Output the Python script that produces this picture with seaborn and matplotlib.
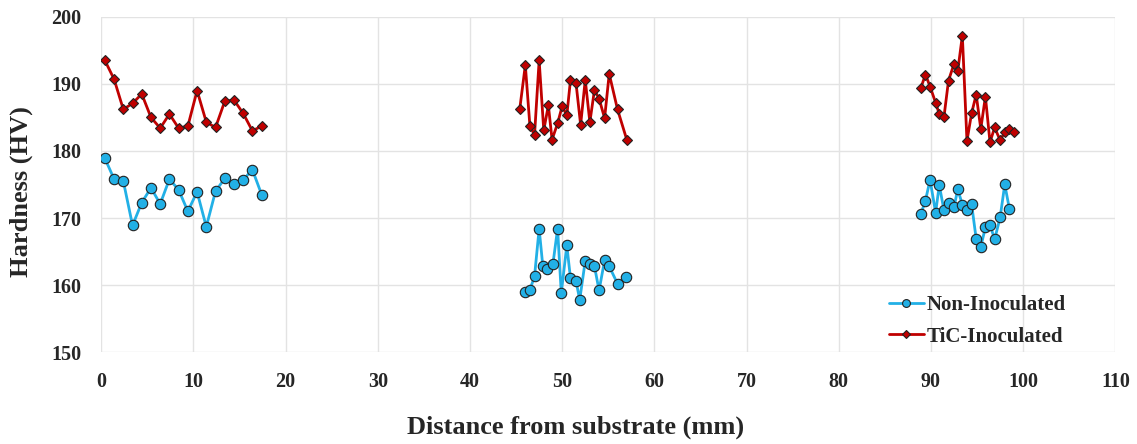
import numpy as np
import pandas as pd
import matplotlib
matplotlib.use("Agg")
import matplotlib.pyplot as plt
import seaborn as sns

# distance (mm) and hardness (HV), three zones per series
non_x1 = [0.4, 1.4, 2.4, 3.4, 4.4, 5.4, 6.4, 7.4, 8.4, 9.4, 10.4, 11.4, 12.4, 13.4, 14.4, 15.4, 16.4, 17.4]
non_y1 = [178.9, 175.8, 175.5, 168.9, 172.3, 174.5, 172.1, 175.8, 174.2, 171.0, 173.9, 168.7, 174.0, 175.9, 175.1, 175.7, 177.2, 173.5]
non_x2 = [46.0, 46.5, 47.0, 47.5, 47.9, 48.4, 49.0, 49.5, 49.9, 50.5, 50.9, 51.5, 51.9, 52.5, 53.0, 53.5, 54.0, 54.6, 55.1, 56.0, 56.9]
non_y2 = [159.0, 159.3, 161.3, 168.4, 162.8, 162.4, 163.2, 168.4, 158.8, 165.9, 161.0, 160.6, 157.8, 163.6, 163.1, 162.8, 159.2, 163.7, 162.8, 160.2, 161.2]
non_x3 = [88.9, 89.4, 89.9, 90.5, 90.9, 91.4, 91.9, 92.5, 92.9, 93.4, 93.9, 94.4, 94.9, 95.4, 95.9, 96.4, 96.9, 97.5, 98.0, 98.5]
non_y3 = [170.6, 172.6, 175.7, 170.8, 174.9, 171.2, 172.3, 171.6, 174.3, 172.0, 171.2, 172.1, 166.9, 165.7, 168.6, 169.0, 166.8, 170.1, 175.0, 171.4]

tic_x1 = [0.4, 1.4, 2.4, 3.4, 4.4, 5.4, 6.4, 7.4, 8.4, 9.4, 10.4, 11.4, 12.4, 13.4, 14.4, 15.4, 16.4, 17.4]
tic_y1 = [193.5, 190.7, 186.2, 187.1, 188.5, 185.0, 183.4, 185.5, 183.4, 183.7, 189.0, 184.3, 183.5, 187.4, 187.6, 185.6, 183.0, 183.7]
tic_x2 = [45.4, 46.0, 46.5, 47.0, 47.5, 48.0, 48.5, 48.9, 49.5, 50.0, 50.5, 50.9, 51.5, 52.0, 52.5, 53.0, 53.5, 54.0, 54.6, 55.1, 56.0, 57.0]
tic_y2 = [186.3, 192.8, 183.7, 182.4, 193.5, 183.1, 186.8, 181.7, 184.1, 186.7, 185.3, 190.6, 190.1, 183.9, 190.6, 184.3, 189.1, 187.8, 184.9, 191.5, 186.2, 181.7]
tic_x3 = [88.9, 89.4, 89.9, 90.5, 90.9, 91.4, 91.9, 92.5, 92.9, 93.4, 93.9, 94.4, 94.9, 95.4, 95.9, 96.4, 96.9, 97.5, 98.0, 98.5, 99.0]
tic_y3 = [189.4, 191.4, 189.6, 187.2, 185.5, 185.0, 190.5, 193.0, 191.9, 197.2, 181.5, 185.6, 188.4, 183.3, 188.1, 181.3, 183.5, 181.6, 182.8, 183.3, 182.8]

series_names = ["Non-Inoculated", "TiC-Inoculated"]

frames = []
for name, zones in [(series_names[0], [(non_x1, non_y1), (non_x2, non_y2), (non_x3, non_y3)]),
                    (series_names[1], [(tic_x1, tic_y1), (tic_x2, tic_y2), (tic_x3, tic_y3)])]:
    for i, (xs, ys) in enumerate(zones):
        frames.append(pd.DataFrame({"x": xs, "y": ys, "series": name, "seg": f"{name}-{i}"}))
df = pd.concat(frames, ignore_index=True)

sns.set_style("white")
plt.rcParams["font.family"] = ["Liberation Serif", "DejaVu Serif"]
plt.rcParams["font.weight"] = "bold"

fig = plt.figure(figsize=(11.37, 4.44), dpi=100)
ax = fig.add_axes([0.089, 0.207, 0.892, 0.755])

colors = {"Non-Inoculated": "#22b0e6", "TiC-Inoculated": "#c00000"}
styles = {"Non-Inoculated": dict(marker="o", markersize=7.5),
          "TiC-Inoculated": dict(marker="D", markersize=5)}

for name in series_names:
    sub = df[df["series"] == name]
    sns.lineplot(data=sub, x="x", y="y", units="seg", estimator=None, ax=ax,
                 color=colors[name], linewidth=2, markeredgecolor="#222222",
                 markeredgewidth=0.8, legend=False, **styles[name])

ax.set_xlim(0, 110)
ax.set_ylim(150, 200)
ax.set_xticks(np.arange(0, 111, 10))
ax.set_yticks(np.arange(150, 201, 10))
ax.grid(True, color="#e3e3e3", linewidth=1)
for s in ax.spines.values():
    s.set_visible(False)
ax.tick_params(axis="both", length=0, labelsize=14.5)
ax.tick_params(axis="x", pad=14)
ax.tick_params(axis="y", pad=14)
for lab in ax.get_xticklabels() + ax.get_yticklabels():
    lab.set_fontweight("bold")

ax.set_xlabel("Distance from substrate (mm)", fontsize=19, fontweight="bold")
ax.set_ylabel("Hardness (HV)", fontsize=19, fontweight="bold")
ax.xaxis.set_label_coords(0.468, -0.19)
ax.yaxis.set_label_coords(-0.067, 0.478)

handles = [plt.Line2D([], [], color=colors[n], linewidth=2, markeredgecolor="#222222",
                      markeredgewidth=0.8, **{k: (v * 0.75 if k == "markersize" else v) for k, v in styles[n].items()})
           for n in series_names]
ax.legend(handles, series_names, loc="lower right", bbox_to_anchor=(0.97, -0.04),
          frameon=False, handlelength=1.7, handletextpad=0.15,
          labelspacing=0.55, prop={"weight": "bold", "size": 15})

fig.savefig("out.png", dpi=100)
